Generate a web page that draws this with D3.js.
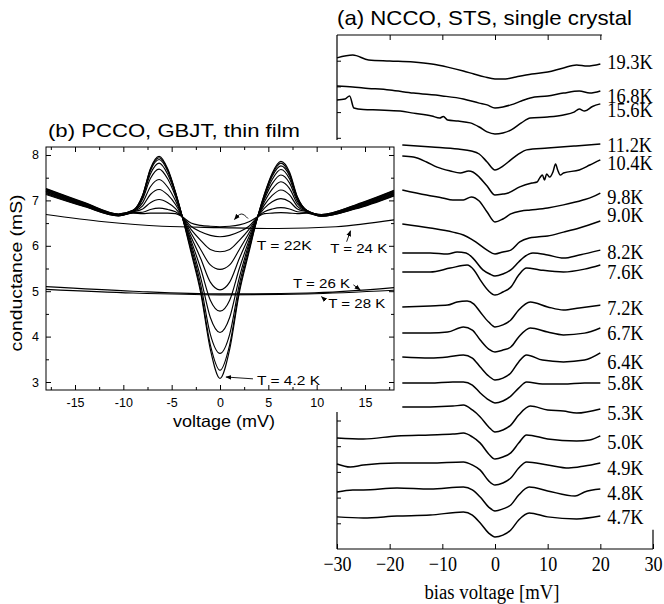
<!DOCTYPE html>
<html><head><meta charset="utf-8">
<script src="https://cdn.jsdelivr.net/npm/d3@7"></script>
<style>body{margin:0;background:#fff}svg{display:block}</style>
</head><body>
<svg id="c" width="664" height="604"></svg>
<script>
// ---------- Panel (a) data: NCCO STS spectra (arbitrary offset units) ----------
const biasTicks = [-30, -20, -10, 0, 10, 20, 30];
const tracesA = [
 {label:"19.3K", lv:18.95, pts:[[-30,19.11],[-27,19.22],[-24,19.03],[-20,18.99],[-15.5,18.95],[-12,18.87],[-9,18.75],[-6,18.60],[-4,18.48],[-2,18.37],[0,18.29],[2,18.29],[4,18.37],[7,18.48],[10,18.56],[13,18.72],[15.5,18.83],[17.5,18.79],[20,18.87]]},
 {label:"16.8K", lv:17.63, pts:[[-30,18.02],[-27,17.98],[-25,17.94],[-20,17.86],[-15.5,17.74],[-10,17.63],[-6,17.51],[-3,17.35],[-1.5,17.28],[0,17.16],[1.5,17.20],[3,17.28],[5,17.43],[6.7,17.55],[10,17.63],[13,17.74],[16,17.82],[18,17.74],[20,17.82]]},
 {label:"15.6K", lv:17.08, pts:[[-30,17.47],[-28.5,17.51],[-27.6,17.63],[-26.8,17.16],[-25,17.10],[-22,17.08],[-18,17.04],[-15.5,16.96],[-12,16.85],[-10.5,16.77],[-9.8,16.83],[-9,16.69],[-7,16.65],[-4.7,16.58],[-3,16.42],[-1.5,16.23],[0,16.15],[1.5,16.19],[3,16.30],[5,16.58],[6.7,16.77],[10,16.81],[13,16.89],[15,17.00],[16,17.12],[17,17.04],[18.5,17.22],[20,17.32]]},
 {label:"11.2K", lv:15.72, pts:[[-17.6,15.72],[-12,15.64],[-7,15.56],[-4.5,15.49],[-3,15.37],[-1.5,15.06],[0,14.75],[1.5,14.90],[3,15.14],[4.5,15.37],[6,15.53],[10,15.60],[15,15.68],[20,15.76]]},
 {label:"10.4K", lv:15.02, pts:[[-17.6,15.29],[-15.5,15.25],[-13,15.06],[-11,14.86],[-8.5,14.71],[-6.6,14.63],[-5,14.71],[-4.2,14.67],[-3,14.47],[-1.5,14.12],[0,13.77],[1.5,13.81],[2.5,13.85],[4.7,14.09],[7,14.24],[8,14.28],[8.5,14.44],[9,14.55],[9.4,14.36],[9.8,14.59],[10.4,14.47],[11,14.67],[11.5,14.98],[11.9,14.75],[12.4,14.55],[13,14.63],[16,14.75],[18,14.94],[20,15.14]]},
 {label:"9.8K", lv:13.70, pts:[[-17.6,13.97],[-13,13.77],[-10,13.66],[-8,13.58],[-6,13.58],[-4.5,13.70],[-3,13.54],[-1.5,13.11],[0,12.72],[1.5,12.84],[3,13.04],[5,13.15],[6.7,13.19],[10,13.27],[13,13.39],[16.7,13.58],[18.5,13.70],[20,13.85]]},
 {label:"9.0K", lv:13.00, pts:[[-17.6,12.65],[-12.3,12.49],[-8,12.33],[-6,12.22],[-4.5,12.06],[-3.4,11.91],[-1.5,11.63],[0,11.48],[1.5,11.56],[3,11.63],[4.7,11.95],[6.5,12.10],[8,12.14],[10,12.18],[13,12.33],[16,12.49],[20,12.76]]},
 {label:"8.2K", lv:11.56, pts:[[-17.6,11.52],[-12.3,11.52],[-9,11.48],[-7.2,11.56],[-5.5,11.52],[-4.2,11.32],[-2.3,10.86],[-1,10.70],[0,10.62],[1.5,10.70],[3,10.86],[4.5,11.17],[5.5,11.36],[7.2,11.52],[10,11.44],[13,11.32],[16,11.44],[20,11.63]]},
 {label:"7.6K", lv:10.78, pts:[[-17.6,10.78],[-12.3,10.78],[-8.5,10.93],[-5.3,11.05],[-4,10.86],[-2.8,10.47],[-1.2,10.04],[0,9.88],[1.5,10.00],[3,10.19],[4.5,10.66],[6,10.93],[8.5,10.86],[13,10.78],[17,10.89],[20,11.05]]},
 {label:"7.2K", lv:9.38, pts:[[-17.6,9.42],[-12.3,9.46],[-9,9.49],[-7.2,9.61],[-5.3,9.65],[-4,9.53],[-2.8,9.22],[-1.2,8.83],[0,8.64],[1.5,8.72],[3,8.91],[4.5,9.30],[6.7,9.61],[10,9.42],[13,9.30],[16,9.38],[20,9.49]]},
 {label:"6.7K", lv:8.40, pts:[[-17.6,8.40],[-12.3,8.40],[-9,8.44],[-6,8.64],[-4.3,8.52],[-2.8,8.13],[-1.2,7.78],[0,7.67],[1.5,7.74],[3,7.86],[4.5,8.25],[6.7,8.60],[10,8.44],[13,8.33],[17,8.40],[20,8.60]]},
 {label:"6.4K", lv:7.28, pts:[[-17.6,7.47],[-12.3,7.43],[-9,7.47],[-6,7.55],[-4.3,7.43],[-2.8,7.08],[-1.2,6.73],[0,6.58],[1.5,6.65],[3,6.85],[4.5,7.28],[6,7.55],[9,7.35],[13,7.28],[17,7.35],[20,7.63]]},
 {label:"5.8K", lv:6.46, pts:[[-17.6,6.46],[-12.3,6.46],[-8,6.50],[-6,6.50],[-4.3,6.38],[-2.8,6.07],[-1.2,5.80],[0,5.68],[1.5,5.76],[3,5.95],[4.5,6.26],[6,6.50],[9,6.42],[13,6.42],[17,6.46],[20,6.46]]},
 {label:"5.3K", lv:5.29, pts:[[-17.6,5.53],[-12.3,5.53],[-8,5.56],[-6,5.60],[-4.3,5.41],[-2.8,5.14],[-1.2,4.75],[0,4.55],[1.5,4.63],[3,4.82],[4.5,5.21],[6.7,5.56],[10,5.41],[13,5.37],[15.5,5.29],[20,5.45]]},
 {label:"5.0K", lv:4.16, pts:[[-30,4.32],[-25,4.28],[-18.6,4.40],[-12.3,4.44],[-8,4.47],[-6,4.51],[-4.3,4.36],[-2.8,4.12],[-1.2,3.70],[0,3.50],[1.5,3.58],[3,3.74],[4.5,4.12],[6,4.44],[10,4.28],[15.5,4.20],[18,4.24],[20,4.40]]},
 {label:"4.9K", lv:3.15, pts:[[-30,3.31],[-27.5,3.19],[-25,3.27],[-18.6,3.35],[-12.3,3.35],[-6,3.39],[-4.3,3.27],[-2.8,3.07],[-1.2,2.65],[0,2.49],[1.5,2.57],[3,2.76],[4.5,3.15],[6,3.39],[10,3.27],[14,3.15],[17,3.23],[20,3.35]]},
 {label:"4.8K", lv:2.18, pts:[[-30,2.22],[-27,2.30],[-25,2.30],[-18.6,2.37],[-12.3,2.33],[-6,2.41],[-4.3,2.30],[-2.8,2.02],[-1.2,1.63],[0,1.48],[1.5,1.56],[3,1.71],[4.5,2.10],[6.5,2.41],[10,2.26],[15.2,2.06],[17,2.22],[20,2.33]]},
 {label:"4.7K", lv:1.25, pts:[[-30,1.25],[-25,1.21],[-18.6,1.28],[-12.3,1.32],[-6,1.44],[-4.3,1.32],[-2.8,1.01],[-1.2,0.62],[0,0.47],[1.5,0.54],[3,0.74],[4.5,1.13],[6.5,1.40],[10,1.25],[15.5,1.17],[20,1.28]]}
];

// ---------- Panel (b) data: PCCO GBJT conductance (mS) ----------
const voltB = [-18,-14,-10.5,-9,-8,-7.2,-6.3,-5.4,-4.6,-3.9,-3,-2,-1,0,1,2,3,3.9,4.6,5.4,6.3,7.2,8,9,10.5,14,18];
const familyB = [
 [7.26,6.95,6.70,6.78,7.12,7.70,7.97,7.69,7.18,6.64,5.86,4.97,3.72,3.08,3.72,4.97,5.86,6.64,7.14,7.60,7.86,7.62,7.08,6.78,6.69,6.90,7.22],
 [7.25,6.94,6.70,6.78,7.11,7.68,7.94,7.67,7.17,6.64,5.91,5.03,3.82,3.26,3.82,5.03,5.91,6.64,7.13,7.57,7.82,7.58,7.07,6.78,6.69,6.89,7.21],
 [7.24,6.93,6.69,6.77,7.10,7.65,7.90,7.64,7.16,6.64,5.98,5.15,4.05,3.63,4.05,5.15,5.98,6.64,7.10,7.53,7.76,7.54,7.05,6.77,6.68,6.88,7.19],
 [7.23,6.92,6.69,6.77,7.07,7.58,7.82,7.57,7.13,6.64,6.05,5.30,4.42,4.09,4.42,5.30,6.05,6.64,7.07,7.46,7.68,7.47,7.02,6.77,6.68,6.87,7.18],
 [7.21,6.91,6.68,6.76,7.03,7.48,7.69,7.47,7.08,6.64,6.12,5.50,4.80,4.56,4.80,5.50,6.12,6.64,7.03,7.37,7.56,7.38,6.98,6.76,6.67,6.86,7.17],
 [7.20,6.90,6.68,6.76,6.95,7.30,7.46,7.29,6.99,6.64,6.20,5.72,5.20,5.03,5.20,5.72,6.20,6.64,6.97,7.25,7.41,7.26,6.93,6.76,6.67,6.85,7.15],
 [7.18,6.89,6.67,6.75,6.88,7.13,7.24,7.12,6.91,6.64,6.28,5.92,5.58,5.48,5.58,5.92,6.28,6.64,6.90,7.11,7.23,7.12,6.87,6.75,6.66,6.84,7.14],
 [7.17,6.88,6.67,6.75,6.81,6.95,7.02,6.95,6.82,6.64,6.36,6.12,5.92,5.87,5.92,6.12,6.36,6.64,6.83,6.97,7.04,6.97,6.81,6.75,6.66,6.83,7.13],
 [7.15,6.87,6.66,6.73,6.74,6.80,6.83,6.80,6.75,6.64,6.43,6.31,6.23,6.20,6.23,6.31,6.43,6.64,6.75,6.81,6.84,6.81,6.75,6.73,6.65,6.82,7.11],
 [7.13,6.86,6.66,6.72,6.71,6.72,6.72,6.72,6.71,6.64,6.50,6.45,6.43,6.42,6.43,6.46,6.53,6.64,6.71,6.72,6.73,6.72,6.71,6.72,6.65,6.81,7.10]
];
const volt24 = [-18,-12,-6,0,6,12,18];
const cond24 = [6.69,6.53,6.43,6.40,6.38,6.42,6.57];
const volt2628 = [-18,-9,0,9,18];
const cond26 = [5.10,5.00,4.94,4.96,5.08];
const cond28 = [5.04,4.96,4.92,4.94,5.02];
const xTicksB = [-15,-10,-5,0,5,10,15];
const xMinorB = [-17.5,-12.5,-7.5,-2.5,2.5,7.5,12.5,17.5];
const yTicksB = [3,4,5,6,7,8];
const yMinorB = [3.5,4.5,5.5,6.5,7.5];
const annotB = [
 {text:"T = 22K",  tx:3.8,  ty:6.00, w:55, arrow:[[2.9,6.60],[2.2,6.70],[1.5,6.58]]},
 {text:"T = 24 K", tx:11.4, ty:5.95, w:57, arrow:[[13.1,6.09],[13.5,6.33]]},
 {text:"T = 26 K", tx:7.55, ty:5.18, w:57, arrow:[[13.8,5.14],[14.5,5.03]]},
 {text:"T = 28 K", tx:11.2, ty:4.74, w:57, arrow:[[10.86,4.81],[10.5,4.88]]},
 {text:"T = 4.2 K",tx:3.83, ty:3.04, w:63, arrow:[[3.41,3.07],[0.62,3.11]]}
];

// ---------- drawing ----------
const svg = d3.select("#c");
const serif = "'Liberation Serif','Times New Roman',serif";
const sans = "'Liberation Sans',Arial,Helvetica,sans-serif";
function squeeze(sel, f){ sel.each(function(){ const w=this.getComputedTextLength(); this.setAttribute("textLength", (w*f).toFixed(1)); this.setAttribute("lengthAdjust","spacingAndGlyphs"); }); }

svg.append("defs").append("marker").attr("id","ah").attr("viewBox","0 0 10 10")
  .attr("refX",9).attr("refY",5).attr("markerWidth",6).attr("markerHeight",6)
  .attr("markerUnits","userSpaceOnUse").attr("orient","auto")
  .append("path").attr("d","M0,1 L10,5 L0,9 Z").attr("fill","#000");

// Panel (a)
const xA = d3.scaleLinear().domain([-30,30]).range([337,653]);
const yA = d3.scaleLinear().domain([0,20]).range([549,35]);
const gA = svg.append("g");
const lineA = d3.line().x(d=>xA(d[0])).y(d=>yA(d[1])).curve(d3.curveMonotoneX);
gA.selectAll("path.tr").data(tracesA).join("path").attr("class","tr")
  .attr("d", d=>lineA(d.pts)).attr("fill","none").attr("stroke","#000").attr("stroke-width",1.5);
const labA = gA.selectAll("text.tl").data(tracesA).join("text").attr("class","tl")
  .attr("x", xA(20)+7).attr("y", d=>yA(d.lv)).attr("dy","0.36em")
  .attr("font-family",serif).attr("font-size",20).text(d=>d.label);
squeeze(labA, 0.92);

const fr = gA.append("g").attr("stroke","#000").attr("stroke-width",1.2);
fr.append("line").attr("x1",xA(-30)).attr("x2",xA(-30)).attr("y1",yA(20)).attr("y2",yA(0));
fr.append("line").attr("x1",xA(-30)).attr("x2",xA(30)).attr("y1",yA(0)).attr("y2",yA(0));
fr.append("line").attr("x1",xA(-30)).attr("x2",xA(20.3)).attr("y1",yA(20)).attr("y2",yA(20));
fr.append("line").attr("x1",xA(30)).attr("x2",xA(30)).attr("y1",yA(0.75)).attr("y2",yA(0));

const axAB = gA.append("g").attr("transform",`translate(0,${yA(0)})`)
  .call(d3.axisBottom(xA).tickValues(biasTicks).tickSize(-5).tickPadding(7).tickFormat(d3.format("d")));
axAB.select(".domain").remove();
axAB.selectAll("text").attr("font-family",serif).attr("font-size",21).attr("fill","#000");
squeeze(axAB.selectAll("text"), 0.86);
const axAT = gA.append("g").attr("transform",`translate(0,${yA(20)})`)
  .call(d3.axisTop(xA).tickValues(biasTicks.slice(1,6)).tickSize(-5).tickFormat(""));
axAT.select(".domain").remove();
const axAL = gA.append("g").attr("transform",`translate(${xA(-30)},0)`)
  .call(d3.axisLeft(yA).tickValues(d3.range(1,20)).tickSize(-4).tickFormat(""));
axAL.select(".domain").remove();
gA.selectAll(".tick line").attr("stroke","#000");

gA.append("text").attr("x",(xA(-30)+xA(30))/2 - 3).attr("y",599).attr("text-anchor","middle")
  .attr("font-family",serif).attr("font-size",20).attr("textLength",135).attr("lengthAdjust","spacingAndGlyphs")
  .text("bias voltage [mV]");
gA.append("text").attr("x",337).attr("y",25).attr("font-family",sans).attr("font-size",21)
  .attr("textLength",295).attr("lengthAdjust","spacingAndGlyphs").text("(a) NCCO, STS, single crystal");

// white inset background for panel (b)
svg.append("rect").attr("x",0).attr("y",140).attr("width",400).attr("height",272).attr("fill","#fff");

// Panel (b)
const xB = d3.scaleLinear().domain([-18,18]).range([46,394]);
const yB = d3.scaleLinear().domain([2.824,8.176]).range([390,147]);
const gB = svg.append("g");
const lineB = d3.line().x(d=>xB(d[0])).y(d=>yB(d[1])).curve(d3.curveMonotoneX);
const curvesB = familyB.map(c => c.map((v,i)=>[voltB[i],v]))
  .concat([volt24.map((v,i)=>[v,cond24[i]]), volt2628.map((v,i)=>[v,cond26[i]]), volt2628.map((v,i)=>[v,cond28[i]])]);
gB.selectAll("path.cb").data(curvesB).join("path").attr("class","cb")
  .attr("d", d=>lineB(d)).attr("fill","none").attr("stroke","#000").attr("stroke-width",1.15);

gB.append("rect").attr("x",xB(-18)).attr("y",yB(8.176)).attr("width",xB(18)-xB(-18)).attr("height",yB(2.824)-yB(8.176))
  .attr("fill","none").attr("stroke","#000").attr("stroke-width",1);

function axisB(gen, tr){ const g=gB.append("g").attr("transform",tr).call(gen); g.select(".domain").remove(); return g; }
axisB(d3.axisBottom(xB).tickValues(xTicksB).tickSize(-5).tickPadding(8).tickFormat(d=>String(d)), `translate(0,${yB(2.824)})`);
axisB(d3.axisBottom(xB).tickValues(xMinorB).tickSize(-3).tickFormat(""), `translate(0,${yB(2.824)})`);
axisB(d3.axisTop(xB).tickValues(xTicksB).tickSize(-5).tickFormat(""), `translate(0,${yB(8.176)})`);
axisB(d3.axisTop(xB).tickValues(xMinorB).tickSize(-3).tickFormat(""), `translate(0,${yB(8.176)})`);
axisB(d3.axisLeft(yB).tickValues(yTicksB).tickSize(-5).tickPadding(7).tickFormat(d=>String(d)), `translate(${xB(-18)},0)`);
axisB(d3.axisLeft(yB).tickValues(yMinorB).tickSize(-3).tickFormat(""), `translate(${xB(-18)},0)`);
axisB(d3.axisRight(yB).tickValues(yTicksB).tickSize(-5).tickFormat(""), `translate(${xB(18)},0)`);
axisB(d3.axisRight(yB).tickValues(yMinorB).tickSize(-3).tickFormat(""), `translate(${xB(18)},0)`);
gB.selectAll(".tick line").attr("stroke","#000");
gB.selectAll(".tick text").attr("font-family",sans).attr("font-size",12.5).attr("fill","#000");

gB.append("text").attr("x",224).attr("y",427).attr("text-anchor","middle").attr("font-family",sans)
  .attr("font-size",16.5).attr("textLength",102).attr("lengthAdjust","spacingAndGlyphs").text("voltage (mV)");
gB.append("text").attr("transform","translate(22,273) rotate(-90)").attr("text-anchor","middle").attr("font-family",sans)
  .attr("font-size",16.5).attr("textLength",157).attr("lengthAdjust","spacingAndGlyphs").text("conductance (mS)");
gB.append("text").attr("x",48).attr("y",137).attr("font-family",sans).attr("font-size",19)
  .attr("textLength",252).attr("lengthAdjust","spacingAndGlyphs").text("(b) PCCO, GBJT, thin film");

const arrowLine = d3.line().x(d=>xB(d[0])).y(d=>yB(d[1])).curve(d3.curveNatural);
gB.selectAll("path.ar").data(annotB).join("path").attr("class","ar")
  .attr("d", d=>arrowLine(d.arrow)).attr("fill","none").attr("stroke","#000").attr("stroke-width",0.9)
  .attr("marker-end","url(#ah)");
gB.selectAll("text.an").data(annotB).join("text").attr("class","an")
  .attr("x", d=>xB(d.tx)).attr("y", d=>yB(d.ty)).attr("dy","0.36em")
  .attr("font-family",sans).attr("font-size",13).attr("textLength",d=>d.w).attr("lengthAdjust","spacingAndGlyphs")
  .text(d=>d.text);
</script>
</body></html>
